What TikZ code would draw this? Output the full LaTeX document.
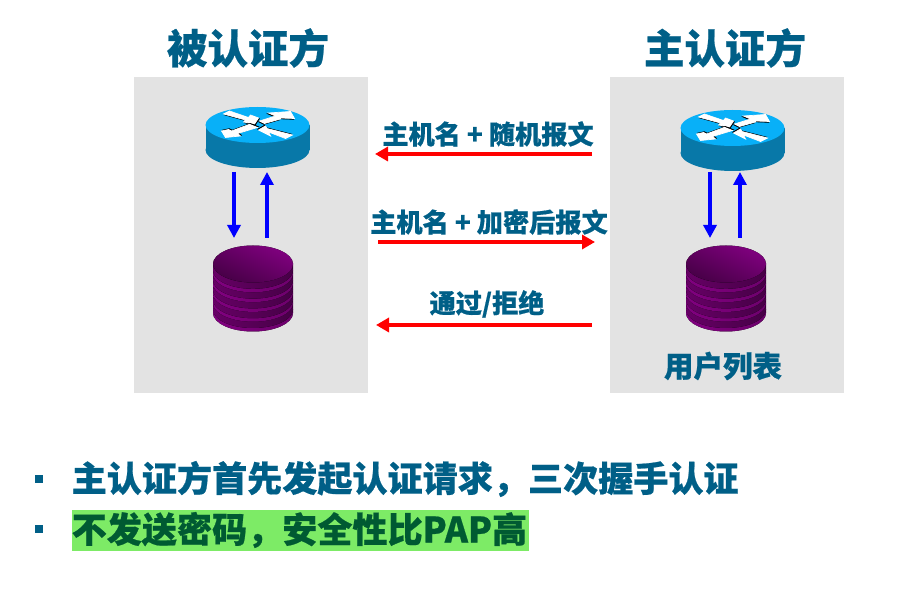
\documentclass[tikz,border=0pt]{standalone}
\usepackage{fontspec}
\setmainfont{Noto Sans CJK SC}[BoldFeatures={FakeBold=0.6}]
\usetikzlibrary{arrows.meta}
\definecolor{titleblue}{HTML}{005F87}
\definecolor{panelgray}{HTML}{E3E3E3}
\definecolor{routertop}{HTML}{08B0F8}
\definecolor{routerside}{HTML}{0878A8}
\definecolor{markgreen}{HTML}{7DEB66}
\definecolor{markdark}{HTML}{005A32}
\definecolor{diskbright}{HTML}{80007F}
\tikzset{
  panel/.style={fill=panelgray, draw=none},
  title/.style={font=\bfseries\fontsize{40.5}{41}\selectfont, text=titleblue, inner sep=0pt},
  msglabel/.style={font=\bfseries\fontsize{26.2}{27}\selectfont, text=titleblue, inner sep=0pt},
  bulletline/.style={font=\bfseries\fontsize{35.1}{36}\selectfont, text=titleblue, anchor=west, inner sep=0pt},
  bulletmark/.style={fill=titleblue, minimum size=8pt, inner sep=0pt},
  msgarrow/.style={draw=red, line width=4.5pt, -{Triangle[length=13pt,width=14pt]}},
  linkarrow/.style={draw=blue, line width=4pt, -{Triangle[length=13pt,width=13pt]}},
  router/.pic={
    \fill[routerside] (-52,0) rectangle (52,25);
    \fill[routerside] (0,25) ellipse [x radius=52pt, y radius=18pt];
    \fill[routertop] (0,0) ellipse [x radius=52pt, y radius=18pt];
    % the four arrows on top
    \foreach \dx/\dy/\pts in {
      0.8/0.8/{(-34,-11) -- (-28,-14) -- (-9,-7.5) -- (-7,-10) -- (1,-7) -- (-3,-1) -- (-14,-3) -- (-12,-5)},
      -0.8/0.8/{(2,-4) -- (18,-9) -- (11,-12) -- (33,-13.5) -- (37,-6.5) -- (23,-7) -- (23,-6) -- (7,-1.5)},
      0.8/-0.8/{(-36,6) -- (-32,12.5) -- (-17,11) -- (-20,8.5) -- (0,2.5) -- (-8,-0.7) -- (-26,6) -- (-29,4.5)},
      -0.8/-0.8/{(1,5) -- (8,1) -- (9.5,3.5) -- (35,10) -- (28,13.5) -- (11,7) -- (13,11)}} {
      \filldraw[black, line width=0.7pt, shift={(\dx,\dy)}] \pts -- cycle;
      \filldraw[white, line width=0.7pt] \pts -- cycle;
    }
  },
  diskstack/.pic={
    \fill[left color=diskbright, right color=diskbright!55!black] (-40,0) rectangle (40,49);
    \foreach \i in {5,4,3,2,1} {
      \fill[left color=diskbright, right color=diskbright!85!black] (0,\i*9.8) ellipse [x radius=40pt, y radius=18.5pt];
      \fill[left color=diskbright!80!black, right color=diskbright!55!black] (0,\i*9.8-3.5) ellipse [x radius=40pt, y radius=18.5pt];
    }
    \fill[left color=diskbright, right color=diskbright!55!black, shading angle=-25] (0,0) ellipse [x radius=40pt, y radius=18.5pt];
  }
}
\begin{document}
\begin{tikzpicture}[x=1pt, y=-1pt]
  \useasboundingbox (0,0) rectangle (921,593);

  % panels
  \fill[panel] (134,77) rectangle (368,393);
  \fill[panel] (610,77) rectangle (844,393);
  \node[title] (lefttitle) at (248,48) {被认证方};
  \node[title] (righttitle) at (725,48) {主认证方};

  % routers and disks
  \pic at (257.5,125) {router};
  \pic at (732.5,128) {router};
  \pic at (253,264) {diskstack};
  \pic at (726,264) {diskstack};
  \node[msglabel, font=\bfseries\fontsize{29.5}{30}\selectfont] (userlist) at (723,366) {用户列表};

  % local arrows
  \coordinate (ltopA) at (234,172);
  \coordinate (lbotA) at (234,238);
  \coordinate (ltopB) at (267,172);
  \coordinate (lbotB) at (267,238);
  \coordinate (rtopA) at (710,172);
  \coordinate (rbotA) at (710,238);
  \coordinate (rtopB) at (740,172);
  \coordinate (rbotB) at (740,238);
  \draw[linkarrow] (ltopA) -- (lbotA);
  \draw[linkarrow] (lbotB) -- (ltopB);
  \draw[linkarrow] (rtopA) -- (rbotA);
  \draw[linkarrow] (rbotB) -- (rtopB);

  % messages
  \coordinate (msgAright) at (592,154);
  \coordinate (msgAleft) at (375,154);
  \coordinate (msgBleft) at (378,242);
  \coordinate (msgBright) at (595,242);
  \coordinate (msgCright) at (592,325);
  \coordinate (msgCleft) at (376,325);
  \draw[msgarrow] (msgAright) -- (msgAleft);
  \draw[msgarrow] (msgBleft) -- (msgBright);
  \draw[msgarrow] (msgCright) -- (msgCleft);
  \node[msglabel] (msgA) at (488,134) {主机名 + 随机报文};
  \node[msglabel] (msgB) at (489,222) {主机名 + 加密后报文};
  \node[msglabel] (msgC) at (487,304) {通过/拒绝};

  % bullet lines
  \node[bulletmark] (markA) at (39,479) {};
  \node[bulletmark] (markB) at (39,529) {};
  \fill[markgreen] (72,510) rectangle (529,551);
  \node[bulletline] (lineA) at (71.5,479) {主认证方首先发起认证请求，三次握手认证};
  \node[bulletline, text=markdark] (lineB) at (71.5,530) {不发送密码，安全性比PAP高};
\end{tikzpicture}
\end{document}
